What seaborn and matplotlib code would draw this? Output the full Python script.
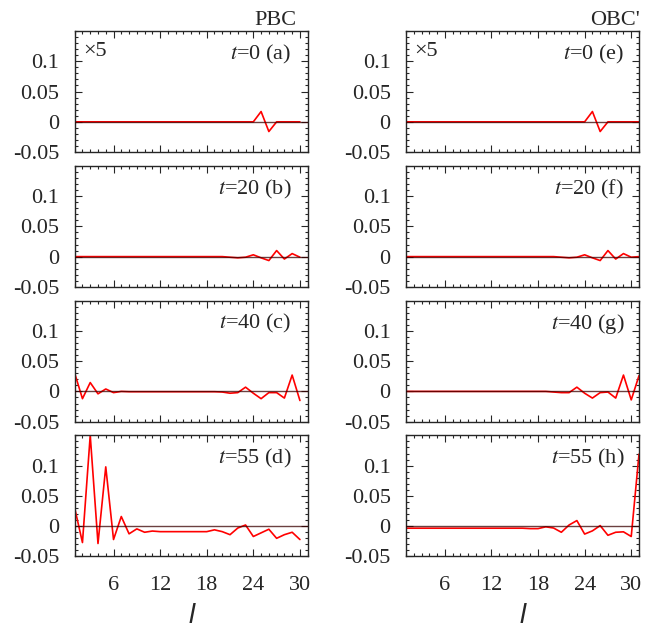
import numpy as np
import pandas as pd
import matplotlib
matplotlib.use('Agg')
import matplotlib.pyplot as plt
from matplotlib import font_manager
from matplotlib.ticker import MultipleLocator
import seaborn as sns

# site index
l_pbc = np.arange(1, 31)
l_obc = np.arange(1, 32)

times = [0, 20, 40, 55]
tags_pbc = ['(a)', '(b)', '(c)', '(d)']
tags_obc = ['(e)', '(f)', '(g)', '(h)']

# PBC (left column) (t=0 already x5)
pbc_t0 = [0, 0, 0, 0, 0, 0, 0, 0, 0, 0, 0, 0, 0, 0, 0, 0, 0, 0, 0, 0,
          0, 0, 0, 0, 0.017, -0.016, 0, 0, 0, 0]
pbc_t20 = [0, 0, 0, 0, 0, 0, 0, 0, 0, 0, 0, 0, 0, 0, 0, 0, 0, 0, 0, 0,
           -0.001, -0.002, -0.001, 0.003, -0.002, -0.0065, 0.010, -0.004, 0.005, -0.001]
pbc_t40 = [0.030, -0.012, 0.0146, -0.004, 0.004, -0.002, 0.0, -0.0005, -0.0005, -0.0005,
           -0.0005, -0.0005, -0.0005, -0.0005, -0.0005, -0.0005, -0.0005, -0.0005, -0.0005, -0.001,
           -0.003, -0.002, 0.007, -0.003, -0.012, -0.002, -0.002, -0.011, 0.027, -0.015]
pbc_t55 = [0.030, -0.027, 0.150, -0.0286, 0.098, -0.022, 0.016, -0.0126, -0.0044, -0.010,
           -0.008, -0.009, -0.009, -0.009, -0.009, -0.009, -0.009, -0.009, -0.006, -0.009,
           -0.014, -0.003, 0.002, -0.017, -0.011, -0.005, -0.020, -0.014, -0.010, -0.022]

# OBC' (right column)
obc_t0 = [0, 0, 0, 0, 0, 0, 0, 0, 0, 0, 0, 0, 0, 0, 0, 0, 0, 0, 0, 0,
          0, 0, 0, 0, 0.017, -0.016, 0, 0, 0, 0, 0]
obc_t20 = [0, 0, 0, 0, 0, 0, 0, 0, 0, 0, 0, 0, 0, 0, 0, 0, 0, 0, 0, 0,
           -0.001, -0.002, -0.001, 0.003, -0.002, -0.0065, 0.010, -0.004, 0.005, -0.001, 0.0]
obc_t40 = [0, 0, 0, 0, 0, 0, 0, 0, 0, 0, 0, 0, 0, 0, 0, 0, 0, 0, 0, -0.001,
           -0.002, -0.002, 0.007, -0.003, -0.011, -0.002, -0.001, -0.011, 0.027, -0.014, 0.026]
obc_t55 = [-0.0033, -0.0033, -0.0033, -0.0033, -0.0033, -0.0033, -0.0033, -0.0033, -0.0033, -0.0033,
           -0.0033, -0.0033, -0.0033, -0.0033, -0.0033, -0.0033, -0.004, -0.004, -0.001, -0.003,
           -0.010, 0.002, 0.0093, -0.013, -0.0077, 0.001, -0.015, -0.010, -0.0093, -0.017, 0.119]

pbc_series = [pbc_t0, pbc_t20, pbc_t40, pbc_t55]
obc_series = [obc_t0, obc_t20, obc_t40, obc_t55]

ytick_vals = [-0.05, 0, 0.05, 0.1]
ytick_text = ['-0.05', '0', '0.05', '0.1']
xtick_vals = [6, 12, 18, 24, 30]

sns.set_style('ticks')

# pick a Times-like serif that is actually installed
installed = {f.name for f in font_manager.fontManager.ttflist}
serif = next((n for n in ['Liberation Serif', 'Times New Roman', 'Nimbus Roman', 'DejaVu Serif']
              if n in installed), 'DejaVu Serif')
plt.rcParams['font.family'] = 'serif'
plt.rcParams['font.serif'] = [serif, 'DejaVu Serif']
plt.rcParams['mathtext.fontset'] = 'stix'

fig, axes = plt.subplots(4, 2, figsize=(6.45, 6.3), dpi=100,
                         gridspec_kw=dict(left=0.1158, right=0.9907, top=0.9508, bottom=0.1167,
                                          wspace=0.422, hspace=0.113))

cols = [(l_pbc, pbc_series, tags_pbc, 0.930, 'PBC', 0.953),
        (l_obc, obc_series, tags_obc, 0.937, "OBC'", 1.004)]

for c, (ls, series, tags, tag_x, title, title_x) in enumerate(cols):
    for r in range(4):
        ax = axes[r, c]
        df = pd.DataFrame({'l': ls, 'v': series[r]})
        sns.lineplot(data=df, x='l', y='v', ax=ax, color='red', lw=1.2)
        ax.axhline(0, color='#3a0000', lw=1.0, alpha=0.75, zorder=3)
        ax.set_xlim(1, 31)
        ax.set_ylim(-0.05, 0.15)
        ax.set_yticks(ytick_vals)
        ax.set_yticklabels(ytick_text, fontsize=16)
        ax.set_xticks(xtick_vals)
        ax.xaxis.set_minor_locator(MultipleLocator(1))
        ax.yaxis.set_minor_locator(MultipleLocator(0.01))
        ax.tick_params(which='both', direction='in', top=True, right=True, width=0.8)
        ax.tick_params(which='major', length=5)
        ax.tick_params(axis='y', which='major', pad=11)
        ax.tick_params(axis='x', which='major', pad=14)
        ax.tick_params(which='minor', length=2.5)
        for s in ax.spines.values():
            s.set_linewidth(1.0)
        ax.set_xlabel('')
        ax.set_ylabel('')
        if r < 3:
            ax.set_xticklabels([])
        else:
            ax.set_xticklabels([str(v) for v in xtick_vals], fontsize=16)
            ax.text(0.5, -0.60, 'l', transform=ax.transAxes, ha='center',
                    va='bottom', fontsize=20, style='italic',
                    family=['Liberation Sans', 'DejaVu Sans'])
        ax.text(tag_x, 0.766, r'$t$=' + str(times[r]) + ' ' + tags[r],
                transform=ax.transAxes, ha='right', va='baseline', fontsize=16)
        if r == 0:
            ax.text(0.037, 0.79, '\u00d75', transform=ax.transAxes, ha='left',
                    va='baseline', fontsize=16)
            ax.text(title_x, 1.05, title, transform=ax.transAxes, ha='right',
                    va='baseline', fontsize=16)

plt.savefig('out.png', dpi=100)
